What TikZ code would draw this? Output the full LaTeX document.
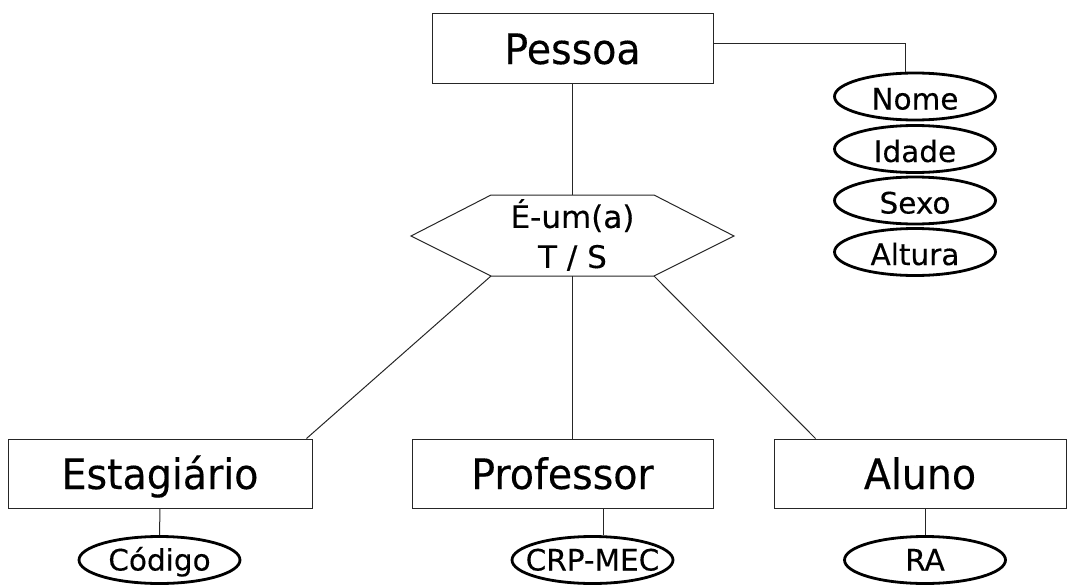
\documentclass[tikz,border=0pt]{standalone}
\usepackage{fontspec}
\setmainfont{DejaVu Sans}[FakeBold=0.3]
\newfontfamily\boxfont{DejaVu Sans}[FakeStretch=0.94, FakeBold=0.3]
\usetikzlibrary{shapes.geometric}
\newcommand{\ztext}[1]{\makebox[0pt][c]{#1}}

\begin{document}
\begin{tikzpicture}[x=1pt,y=-1pt,
  link/.style={line width=1pt, draw=black!85},
  entity/.style={draw=black!85, line width=1pt, minimum width=#1, minimum height=69pt,
    inner sep=0pt, text height=31pt, text depth=0pt,
    font=\boxfont\fontsize{42}{42}\selectfont},
  attr/.style={draw, ellipse, line width=2.8pt, minimum width=161pt, minimum height=47pt,
    inner sep=0pt, text height=26pt, text depth=0pt,
    font=\fontsize{29.5}{29.5}\selectfont},
  battr/.style={attr, text height=21pt, font=\fontsize{29.5}{29.5}\selectfont}
]
\useasboundingbox (0,0) rectangle (1068,586);

% entities
\node[entity=281pt] (pessoa) at (572.5,48.5) {Pessoa};
\node[entity=304pt] (estag) at (160,473.5) {Estagiário};
\node[entity=301pt] (prof) at (562.5,473.5) {Professor};
\node[entity=292pt] (aluno) at (920,473.5) {Aluno};

% specialisation hexagon
\coordinate (hl) at (411,236);
\coordinate (htl) at (491,195);
\coordinate (htr) at (654,195);
\coordinate (hr) at (734,236);
\coordinate (hbr) at (654,276);
\coordinate (hbl) at (491,276);
\draw[link] (hl) -- (htl) -- (htr) -- (hr) -- (hbr) -- (hbl) -- cycle;
\node[align=center, inner sep=0pt, font=\fontsize{31}{40}\selectfont] (isa) at (572.5,235) {É-um(a)\\T / S};

% attributes of Pessoa
\node[attr] (nome) at (915,96.5) {\ztext{Nome}};
\node[attr] (idade) at (915,149) {\ztext{Idade}};
\node[attr] (sexo) at (915,200.5) {\ztext{Sexo}};
\node[attr] (altura) at (915,252) {\ztext{Altura}};

% attributes of the subclasses
\node[battr, minimum height=47pt] (cod) at (159.5,560) {\ztext{Código}};
\node[battr, minimum height=47pt] (crp) at (592.5,560) {\ztext{CRP-MEC}};
\node[battr, minimum height=47pt] (ra) at (925,560) {\ztext{RA}};

% connectors
\draw[link] ([yshift=5pt]pessoa.east) -| ([xshift=-10pt]nome.north);
\draw[link] (pessoa.south) -- (pessoa.south |- htl);
\draw[link] (hbl) -- ([xshift=-6pt]estag.north east);
\draw[link] (isa.center |- hbl) -- (isa.center |- prof.north);
\draw[link] (hbr) -- ([xshift=42pt]aluno.north west);
\draw[link] (estag.south) -- (cod.north);
\draw[link] ([xshift=40.5pt]prof.south) -- ([xshift=40.5pt]prof.south |- crp.north);
\draw[link] (ra.north |- aluno.south) -- (ra.north);
\end{tikzpicture}
\end{document}
